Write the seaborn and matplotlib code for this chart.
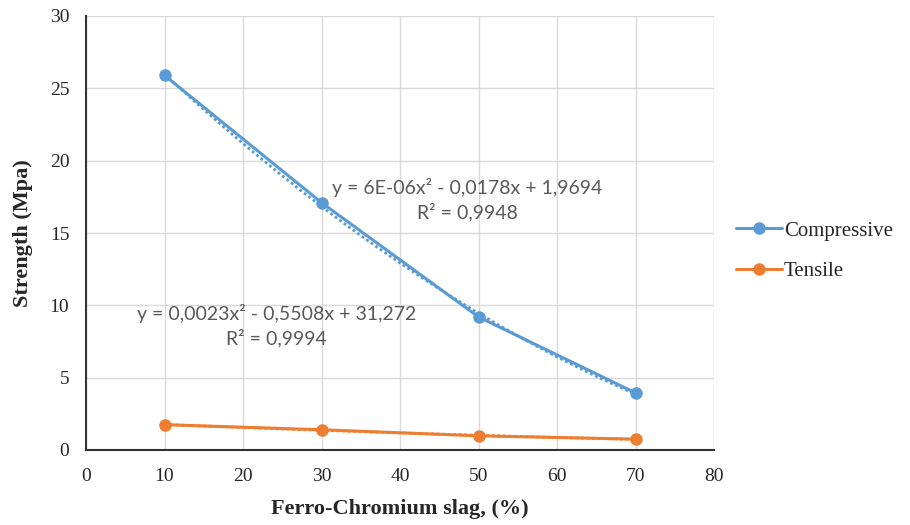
import numpy as np
import pandas as pd
import matplotlib
matplotlib.use("Agg")
import matplotlib.pyplot as plt
import seaborn as sns

slag = [10, 30, 50, 70]
compressive = [25.9, 17.1, 9.2, 3.95]
tensile = [1.75, 1.4, 0.98, 0.75]
x_ticks = [0, 10, 20, 30, 40, 50, 60, 70, 80]
y_ticks = [0, 5, 10, 15, 20, 25, 30]
eq_comp = "y = 6E-06x² - 0,0178x + 1,9694\nR² = 0,9948"
eq_tens = "y = 0,0023x² - 0,5508x + 31,272\nR² = 0,9994"

df = pd.DataFrame({"slag": slag * 2,
                   "strength": compressive + tensile,
                   "kind": ["Compressive"] * 4 + ["Tensile"] * 4})

sns.set_style("whitegrid")
plt.rcParams['font.family'] = ['Liberation Serif', 'DejaVu Serif']

colors = {"Compressive": "#5B9BD5", "Tensile": "#ED7D31"}

fig = plt.figure(figsize=(9.1, 5.25), dpi=100)
ax = fig.add_axes([86 / 910, 1 - 450 / 525, (714 - 86) / 910, (450 - 16) / 525])

sns.lineplot(data=df, x="slag", y="strength", hue="kind", palette=colors,
             marker="o", markersize=9, markeredgewidth=0, linewidth=2.2, ax=ax)

# polynomial (order 2) trendlines, dotted
xs = np.linspace(slag[0], slag[-1], 100)
for kind, vals in [("Compressive", compressive), ("Tensile", tensile)]:
    coef = np.polyfit(slag, vals, 2)
    ax.plot(xs, np.polyval(coef, xs), linestyle=(0, (1, 1)), color=colors[kind],
            linewidth=2, zorder=1)

ax.set_xlim(0, 80)
ax.set_ylim(0, 30)
ax.set_xticks(x_ticks)
ax.set_yticks(y_ticks)
ax.grid(color="#d9d9d9", linewidth=1)
for s in ["top", "right"]:
    ax.spines[s].set_visible(False)
ax.spines["left"].set_color("#333333")
ax.spines["bottom"].set_color("#333333")
ax.spines["left"].set_linewidth(1.5)
ax.spines["bottom"].set_linewidth(1.5)
ax.tick_params(axis="both", labelsize=14, colors="#262626", length=0)
ax.tick_params(axis="x", pad=13)
ax.tick_params(axis="y", pad=12)

ax.set_xlabel("Ferro-Chromium slag, (%)", fontsize=16, fontweight="bold", labelpad=10)
ax.set_ylabel("Strength (Mpa)", fontsize=16, fontweight="bold", labelpad=12)

ax.text(48.6, 17.3, eq_comp, ha="center", va="center", fontsize=14,
        color="#595959", family=["Lato", "DejaVu Sans"], linespacing=1.35)
ax.text(24.3, 8.6, eq_tens, ha="center", va="center", fontsize=14,
        color="#595959", family=["Lato", "DejaVu Sans"], linespacing=1.35)

handles, labels = ax.get_legend_handles_labels()
ax.legend_.remove()
fig.legend(handles, labels, loc="center left", bbox_to_anchor=(717 / 910, 1 - 251 / 525),
           frameon=False, fontsize=15, handlelength=2.2, handletextpad=0.1,
           labelspacing=1.0)

fig.savefig("out.png", dpi=100)
